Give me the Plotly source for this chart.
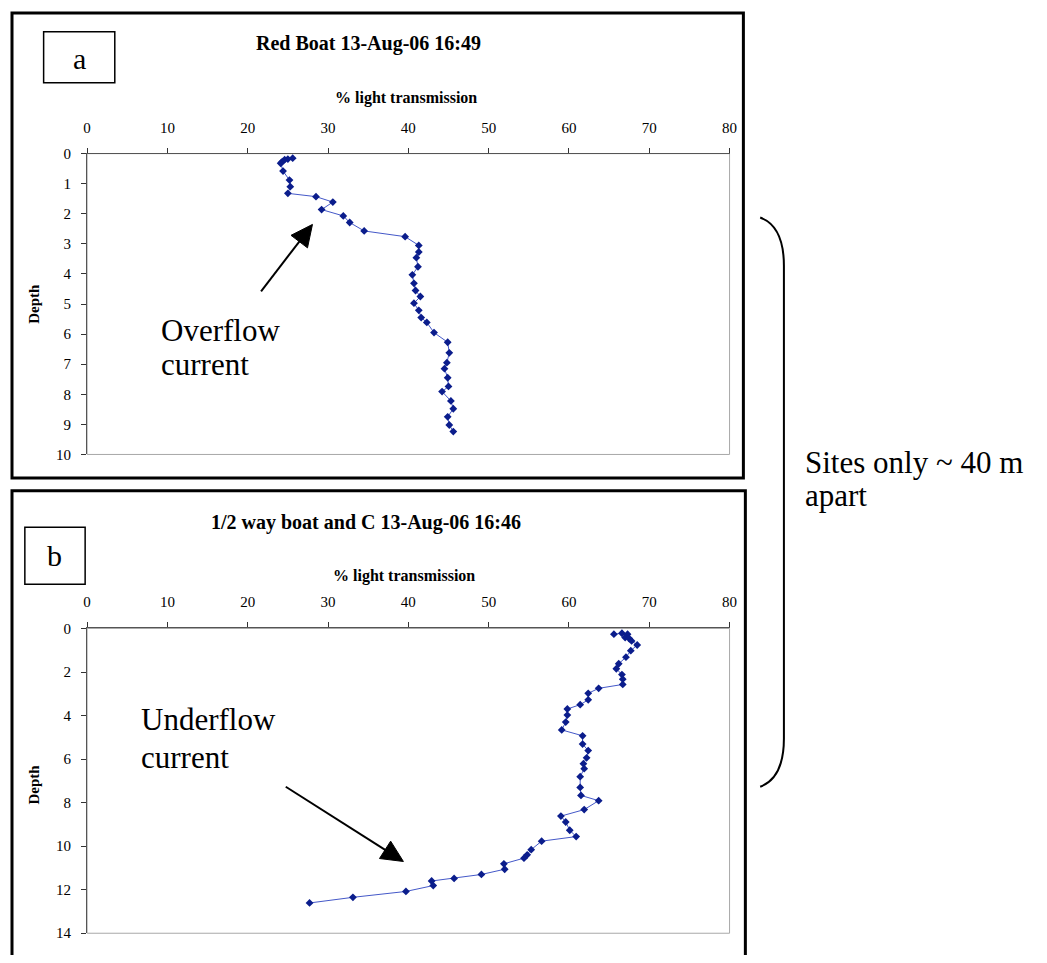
import math
import plotly.graph_objects as go

# ---------------- data ----------------
top_transmission = [25.6, 25.0, 24.6, 24.3, 24.1, 24.4, 25.2, 25.3, 25.0, 28.5, 30.6, 29.2, 31.9, 32.7,
                    34.5, 39.6, 41.3, 41.3, 41.0, 41.2, 40.5, 40.7, 40.9, 41.5, 40.7, 41.3, 41.6, 42.3,
                    43.2, 44.9, 45.1, 44.8, 44.5, 44.9, 45.0, 44.2, 45.3, 45.6, 44.9, 45.1, 45.6]
top_depth = [0.15, 0.18, 0.2, 0.27, 0.32, 0.58, 0.88, 1.1, 1.32, 1.43, 1.61, 1.86, 2.07, 2.29,
             2.57, 2.76, 3.05, 3.27, 3.46, 3.76, 4.03, 4.31, 4.55, 4.75, 4.97, 5.21, 5.45, 5.61,
             5.95, 6.27, 6.62, 6.95, 7.15, 7.45, 7.74, 7.91, 8.22, 8.48, 8.75, 9.02, 9.24]

bottom_transmission = [65.6, 66.6, 67.3, 67.0, 67.5, 67.8, 68.5, 67.7, 67.1, 66.2, 65.9, 66.6, 66.7, 66.7,
                       63.7, 62.4, 62.4, 61.4, 59.8, 59.8, 59.6, 59.1, 61.7, 61.7, 62.4, 62.2, 61.8, 61.9,
                       61.4, 61.4, 61.5, 63.7, 61.9, 59.0, 59.6, 60.1, 60.9, 56.6, 55.3, 54.8, 54.4, 51.9,
                       52.0, 49.1, 45.7, 42.9, 43.1, 39.7, 33.1, 27.7]
bottom_depth = [0.26, 0.22, 0.26, 0.42, 0.46, 0.57, 0.76, 1.02, 1.32, 1.62, 1.85, 2.12, 2.33, 2.57,
                2.75, 2.98, 3.28, 3.5, 3.7, 3.98, 4.3, 4.66, 4.93, 5.31, 5.61, 5.94, 6.21, 6.44,
                6.81, 7.3, 7.67, 7.91, 8.32, 8.62, 8.89, 9.27, 9.56, 9.77, 10.16, 10.4, 10.55, 10.81,
                11.06, 11.3, 11.48, 11.6, 11.81, 12.08, 12.35, 12.61]

x_ticks = [0, 10, 20, 30, 40, 50, 60, 70, 80]
top_depth_ticks = [0, 1, 2, 3, 4, 5, 6, 7, 8, 9, 10]
bottom_depth_ticks = [0, 2, 4, 6, 8, 10, 12, 14]

top_title = "Red Boat 13-Aug-06 16:49"
bottom_title = "1/2 way boat and C 13-Aug-06 16:46"
x_title = "% light transmission"
y_title = "Depth"

# ---------------- geometry helpers ----------------
# the page body keeps its default 8px margin, so the figure is 16px smaller than the window
OFF = 8
W, H = 1047 - 2 * OFF, 963 - 2 * OFF
SERIF = "Liberation Serif, Times New Roman, serif"


def px(x):
    return (x - OFF) / W


def py(y):
    return 1 - (y - OFF) / H


fig = go.Figure()

line_col = "#4458c8"
mark_col = "#0b1d8c"

fig.add_trace(go.Scatter(x=top_transmission, y=top_depth, mode="lines+markers",
                         line=dict(color=line_col, width=1),
                         marker=dict(symbol="diamond", size=6, color=mark_col),
                         xaxis="x", yaxis="y", showlegend=False))
fig.add_trace(go.Scatter(x=bottom_transmission, y=bottom_depth, mode="lines+markers",
                         line=dict(color=line_col, width=1),
                         marker=dict(symbol="diamond", size=6, color=mark_col),
                         xaxis="x2", yaxis="y2", showlegend=False))

tickfont = dict(family=SERIF, size=15, color="black")
xcommon = dict(side="top", range=[0, 80], tickvals=x_ticks, ticks="outside", ticklen=5,
               tickcolor="#333", showline=True, linecolor="#555", linewidth=1,
               showgrid=False, zeroline=False, tickfont=tickfont, ticklabelstandoff=9,
               fixedrange=True)
ycommon = dict(ticks="outside", ticklen=5, tickcolor="#333", showline=True, linecolor="#555",
               linewidth=1, showgrid=False, zeroline=False, tickfont=tickfont,
               ticklabelstandoff=7, fixedrange=True)

fig.update_layout(
    width=W, height=H,
    margin=dict(l=0, r=0, t=0, b=0),
    paper_bgcolor="white", plot_bgcolor="white",
    xaxis=dict(domain=[px(84), px(734)], anchor="y", **xcommon),
    yaxis=dict(domain=[py(454), py(148)], anchor="x", range=[10, 0], tickvals=top_depth_ticks, **ycommon),
    xaxis2=dict(domain=[px(84), px(734)], anchor="y2", **xcommon),
    yaxis2=dict(domain=[py(941), py(631)], anchor="x2", range=[14, 0], tickvals=bottom_depth_ticks, **ycommon),
)

shapes = []
# light grey plot borders
for xr, yr in (("x", "y"), ("x2", "y2")):
    shapes.append(dict(type="rect", xref=f"{xr} domain", yref=f"{yr} domain", x0=0, x1=1, y0=0, y1=1,
                       line=dict(color="#a8a8a8", width=1), layer="below"))
# panel frames
shapes.append(dict(type="rect", xref="paper", yref="paper", x0=px(8), x1=px(748), y0=py(478), y1=py(5),
                   line=dict(color="black", width=3)))
shapes.append(dict(type="rect", xref="paper", yref="paper", x0=px(8), x1=px(750), y0=py(990), y1=py(491),
                   line=dict(color="black", width=3)))
# label boxes
shapes.append(dict(type="rect", xref="paper", yref="paper", x0=px(40), x1=px(112), y0=py(76), y1=py(24),
                   line=dict(color="black", width=1.5)))
shapes.append(dict(type="rect", xref="paper", yref="paper", x0=px(21), x1=px(82), y0=py(586), y1=py(528),
                   line=dict(color="black", width=1.5)))
# brace
brace = (f"M {px(765)},{py(213)} Q {px(789)},{py(222)} {px(789)},{py(262)} "
         f"L {px(789)},{py(743)} Q {px(789)},{py(783)} {px(765)},{py(792)}")
shapes.append(dict(type="path", xref="paper", yref="paper", path=brace, line=dict(color="black", width=2)))


def arrow(tail, tip, length=22, width=21):
    dx, dy = tip[0] - tail[0], tip[1] - tail[1]
    d = math.hypot(dx, dy)
    ux, uy = dx / d, dy / d
    bx, by = tip[0] - ux * length, tip[1] - uy * length
    nx, ny = -uy, ux
    c1 = (bx + nx * width / 2, by + ny * width / 2)
    c2 = (bx - nx * width / 2, by - ny * width / 2)
    out = [dict(type="line", xref="paper", yref="paper", x0=px(tail[0]), y0=py(tail[1]),
                x1=px(bx + ux * 2), y1=py(by + uy * 2), line=dict(color="black", width=2))]
    path = (f"M {px(tip[0])},{py(tip[1])} L {px(c1[0])},{py(c1[1])} "
            f"L {px(c2[0])},{py(c2[1])} Z")
    out.append(dict(type="path", xref="paper", yref="paper", path=path, fillcolor="black",
                    line=dict(color="black", width=1)))
    return out


shapes += arrow((260, 288), (312, 220))
shapes += arrow((285, 792), (404, 868))
fig.update_layout(shapes=shapes)


def txt(x, y, text, size, bold=False, xanchor="center", angle=0):
    t = f"<b>{text}</b>" if bold else text
    return dict(x=px(x), y=py(y), xref="paper", yref="paper", text=t, showarrow=False,
                xanchor=xanchor, yanchor="middle", textangle=angle,
                font=dict(family=SERIF, size=size, color="black"))


annotations = [
    txt(369, 36, top_title, 20, bold=True),
    txt(407, 91, x_title, 16, bold=True),
    txt(30, 301, y_title, 15, bold=True, angle=-90),
    txt(76, 51, "a", 30),
    txt(366, 523, bottom_title, 20, bold=True),
    txt(405, 578, x_title, 16, bold=True),
    txt(30, 790, y_title, 15, bold=True, angle=-90),
    txt(51, 557, "b", 30),
    txt(157, 328, "Overflow", 31, xanchor="left"),
    txt(157, 362, "current", 31, xanchor="left"),
    txt(136, 724, "Underflow", 31, xanchor="left"),
    txt(136, 762, "current", 31, xanchor="left"),
    txt(808, 462, "Sites only ~ 40 m", 31, xanchor="left"),
    txt(808, 496, "apart", 31, xanchor="left"),
]
fig.update_layout(annotations=annotations)

fig.write_html("out.html", config={"displayModeBar": False})
